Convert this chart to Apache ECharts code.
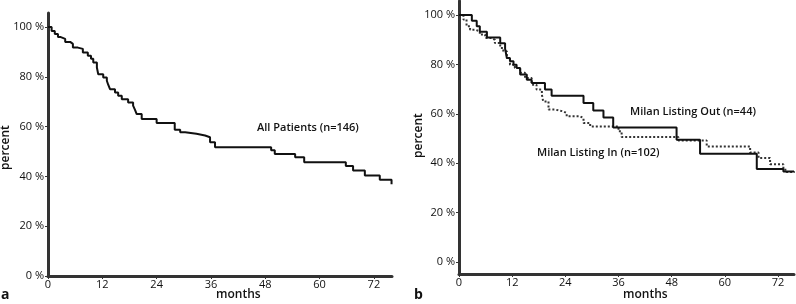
<!DOCTYPE html>
<html><head><meta charset="utf-8">
<script src="https://cdn.jsdelivr.net/npm/echarts@6/dist/echarts.min.js"></script>
<style>html,body{margin:0;padding:0;background:#fff}#c{width:796px;height:304px}</style>
</head><body><div id="c"></div>
<script>
// Panel a: All Patients (n=146)
const allMonths = [0,0.8,1.5,2.2,2.7,3.8,4.9,5.5,6.6,7.7,8.8,9.5,10,10.8,11.1,12.2,13,13.3,13.7,14.8,15.5,16.3,17.7,18.8,19.2,19.6,20.7,24,28,29.2,30.3,32.8,34.7,35.8,36.9,49.3,50.1,54.6,56.6,65.8,67.4,70,73.3,75.9];
const allSurv   = [100,98.4,97.2,96,95.2,94,93.2,91.7,91.2,89.7,88.4,87.2,85.7,83.7,81,79.7,78.4,76.8,75,73.7,72.4,71,69.7,68.4,66.8,65,63,61.4,58.7,57.7,57.1,56.4,55.7,53.7,51.7,50.5,49,47.7,45.7,44.2,42.4,40.4,38.6,36.8];
// Panel b: Milan Listing Out (n=44)
const outMonths = [0,2.9,4.0,4.7,6.3,9.3,10.4,10.8,11.5,12.3,13.0,13.8,15.3,16.4,19.4,20.9,28.1,30.3,32.6,34.8,49.1,54.4,67.2,73.2,75.6];
const outSurv   = [100,97.7,95.5,93.2,90.9,88.6,86.4,82.6,81.3,79.9,78.6,75.9,73.8,72.5,69.8,67.3,64.4,61.3,58.5,54.5,49.5,43.8,37.6,36.6,36.6];
// Panel b: Milan Listing In (n=102)
const inMonths = [0,1.0,1.7,2.5,3.6,4.7,5.9,7.4,8.1,9.3,10.0,10.8,11.5,12.6,13.8,14.9,16.4,17.5,18.7,19.0,20.2,21.7,23.5,24.3,27.3,28.1,29.6,36.0,36.7,49.5,55.9,65.7,67.6,70.2,73.2,73.9,75.8];
const inSurv   = [100,98.2,95.5,94.1,93.4,92.1,90.7,90.0,88.7,86.7,85.3,82.6,79.9,78.6,76.6,74.5,71.8,69.8,67.8,65.0,61.7,61.0,60.3,59.0,58.3,56.3,54.9,52.9,50.6,49.2,46.8,44.3,42.1,39.6,37.3,36.4,36.4];
const yTicks = [0,20,40,60,80,100];
const xTicks = [0,12,24,36,48,60,72];

const pairs = (xs, ys) => xs.map((x, i) => [x, ys[i]]);
const FONT = 'Open Sans';
const axisLineStyle = {lineStyle:{color:'#333', width:3}};
function xAx(gi, max){
  return {gridIndex:gi, type:'value', min:0, max:max,
    axisLine:{show:true, onZero:false, ...axisLineStyle},
    axisTick:{show:true, length:3, customValues:xTicks, lineStyle:{color:'#333', width:1}},
    axisLabel:{color:'#111', fontSize:11, fontWeight:500, fontFamily:FONT, margin:3, customValues:xTicks},
    splitLine:{show:false}};
}
function yAx(gi, min, max){
  return {gridIndex:gi, type:'value', min:min, max:max,
    axisLine:{show:true, onZero:false, ...axisLineStyle},
    axisTick:{show:true, length:3, customValues:yTicks, lineStyle:{color:'#333', width:1}},
    axisLabel:{color:'#111', fontSize:11, fontWeight:500, fontFamily:FONT, margin:4, customValues:yTicks, formatter:'{value} %'},
    splitLine:{show:false}};
}
const txt = (t, left, top, size, weight) => ({
  type:'text', left:left, top:top,
  style:{text:t, font: (weight||'normal') + ' ' + size + 'px "' + FONT + '"', fill:'#111'}
});
const chart = echarts.init(document.getElementById('c'), null, {renderer:'canvas'});
chart.setOption({
  animation:false,
  grid:[{left:48, top:13, width:344, height:263},
        {left:459, top:1, width:335, height:273}],
  xAxis:[xAx(0, 76), xAx(1, 75.6)],
  yAxis:[yAx(0, 0, 105.6), yAx(1, -4.9, 105.7)],
  series:[
    {type:'line', xAxisIndex:0, yAxisIndex:0, step:'end', showSymbol:false,
     data:pairs(allMonths, allSurv), lineStyle:{color:'#111', width:2}},
    {type:'line', xAxisIndex:1, yAxisIndex:1, step:'end', showSymbol:false,
     data:pairs(inMonths, inSurv), lineStyle:{color:'#333', width:2, type:'dotted'}},
    {type:'line', xAxisIndex:1, yAxisIndex:1, step:'end', showSymbol:false,
     data:pairs(outMonths, outSurv), lineStyle:{color:'#111', width:2}}
  ],
  graphic:[
    txt('All Patients (n=146)', 257, 122, 11, '600'),
    txt('Milan Listing Out (n=44)', 630, 106, 11, '600'),
    txt('Milan Listing In (n=102)', 537, 147, 11, '600'),
    txt('months', 216, 289, 12, '600'),
    txt('months', 623, 289, 12, '600'),
    txt('a', 1, 288, 14, 'bold'),
    txt('b', 414, 288, 14, 'bold'),
    {type:'text', x:0, y:170, rotation:Math.PI/2, style:{text:'percent', font:'600 12px "'+FONT+'"', fill:'#111'}},
    {type:'text', x:413, y:158, rotation:Math.PI/2, style:{text:'percent', font:'600 12px "'+FONT+'"', fill:'#111'}}
  ]
});
</script></body></html>
